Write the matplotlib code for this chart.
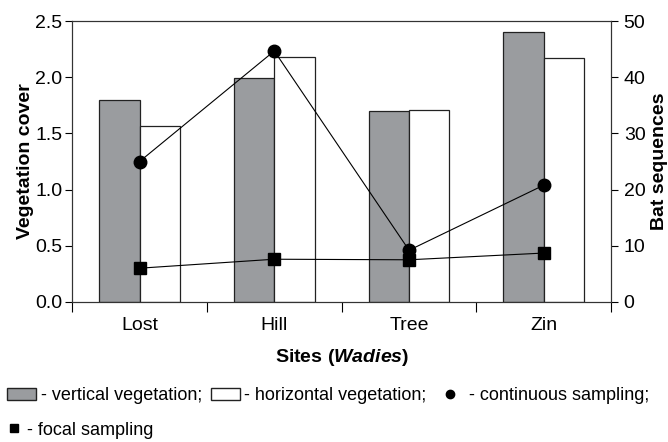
import matplotlib
matplotlib.use("Agg")
import matplotlib.pyplot as plt
from matplotlib.patches import Patch
from matplotlib.lines import Line2D
import numpy as np

plt.rcParams['font.family'] = ['Liberation Sans Narrow', 'Liberation Sans', 'DejaVu Sans']
plt.rcParams['mathtext.fontset'] = 'custom'
plt.rcParams['mathtext.bf'] = 'Liberation Sans:bold'
plt.rcParams['mathtext.bfit'] = 'Liberation Sans:italic:bold'
plt.rcParams['mathtext.it'] = 'Liberation Sans:italic'
plt.rcParams['mathtext.rm'] = 'Liberation Sans'

sites = ["Lost", "Hill", "Tree", "Zin"]
vertical = [1.80, 1.99, 1.70, 2.40]
horizontal = [1.57, 2.18, 1.71, 2.17]
continuous = [25.0, 44.7, 9.2, 20.8]
focal = [6.0, 7.6, 7.5, 8.7]

x = np.arange(len(sites))
w = 0.3

fig = plt.figure(figsize=(6.68, 4.42), dpi=100)
ax = fig.add_axes([0.108, 0.317, 0.807, 0.635])
ax.bar(x - w / 2, vertical, w, color="#9a9c9f", edgecolor="#222222", linewidth=0.9)
ax.bar(x + w / 2, horizontal, w, color="white", edgecolor="#222222", linewidth=0.9)
ax.set_xlim(-0.5, 3.5)
ax.set_ylim(0, 2.5)
ax.set_yticks([0, 0.5, 1.0, 1.5, 2.0, 2.5])
ax.set_yticklabels(["0.0", "0.5", "1.0", "1.5", "2.0", "2.5"])
ax.set_xticks([-0.5, 0.5, 1.5, 2.5, 3.5])
ax.set_xticklabels([])
ax.set_xticks(x, minor=True)
ax.set_xticklabels(sites, minor=True)
ax.tick_params(axis="x", which="minor", length=0, labelsize=14, pad=11)
ax.tick_params(axis="x", which="major", length=7, width=0.8)
ax.tick_params(axis="y", labelsize=14, length=5, width=0.8, pad=2)
ax.set_ylabel("Vegetation cover", fontsize=14, fontweight="bold", labelpad=1)
ax.set_xlabel("$\\mathbf{Sites\\ (}\\mathbfit{Wadies}\\mathbf{)}$", fontsize=14, labelpad=9)
for s in ax.spines.values():
    s.set_linewidth(0.8)
    s.set_color("#333333")

ax2 = ax.twinx()
ax2.plot(x, continuous, color="black", linewidth=0.8, marker="o", markersize=9)
ax2.plot(x, focal, color="black", linewidth=0.8, marker="s", markersize=8)
ax2.set_ylim(0, 50)
ax2.set_yticks([0, 10, 20, 30, 40, 50])
ax2.tick_params(axis="y", labelsize=14, length=5, width=0.8, pad=4)
ax2.set_ylabel("Bat sequences", fontsize=14, fontweight="bold", labelpad=4)
for s in ax2.spines.values():
    s.set_linewidth(0.8)
    s.set_color("#333333")

h1 = [Patch(facecolor="#9a9c9f", edgecolor="#222222", label="- vertical vegetation;"),
      Patch(facecolor="white", edgecolor="#222222", label="- horizontal vegetation;"),
      Line2D([], [], color="black", marker="o", linestyle="none", markersize=6,
             label="- continuous sampling;")]
fig.legend(handles=h1, loc="upper left", bbox_to_anchor=(0.0, 0.14), ncol=3,
           frameon=False, fontsize=13, handlelength=1.6, handletextpad=0.25,
           columnspacing=0.5, borderaxespad=0)
h2 = [Line2D([], [], color="black", marker="s", linestyle="none", markersize=6,
             label="- focal sampling")]
fig.legend(handles=h2, loc="upper left", bbox_to_anchor=(0.0, 0.062), frameon=False,
           fontsize=13, handlelength=0.8, handletextpad=0.3, borderaxespad=0)

fig.savefig("out.png", dpi=100)
